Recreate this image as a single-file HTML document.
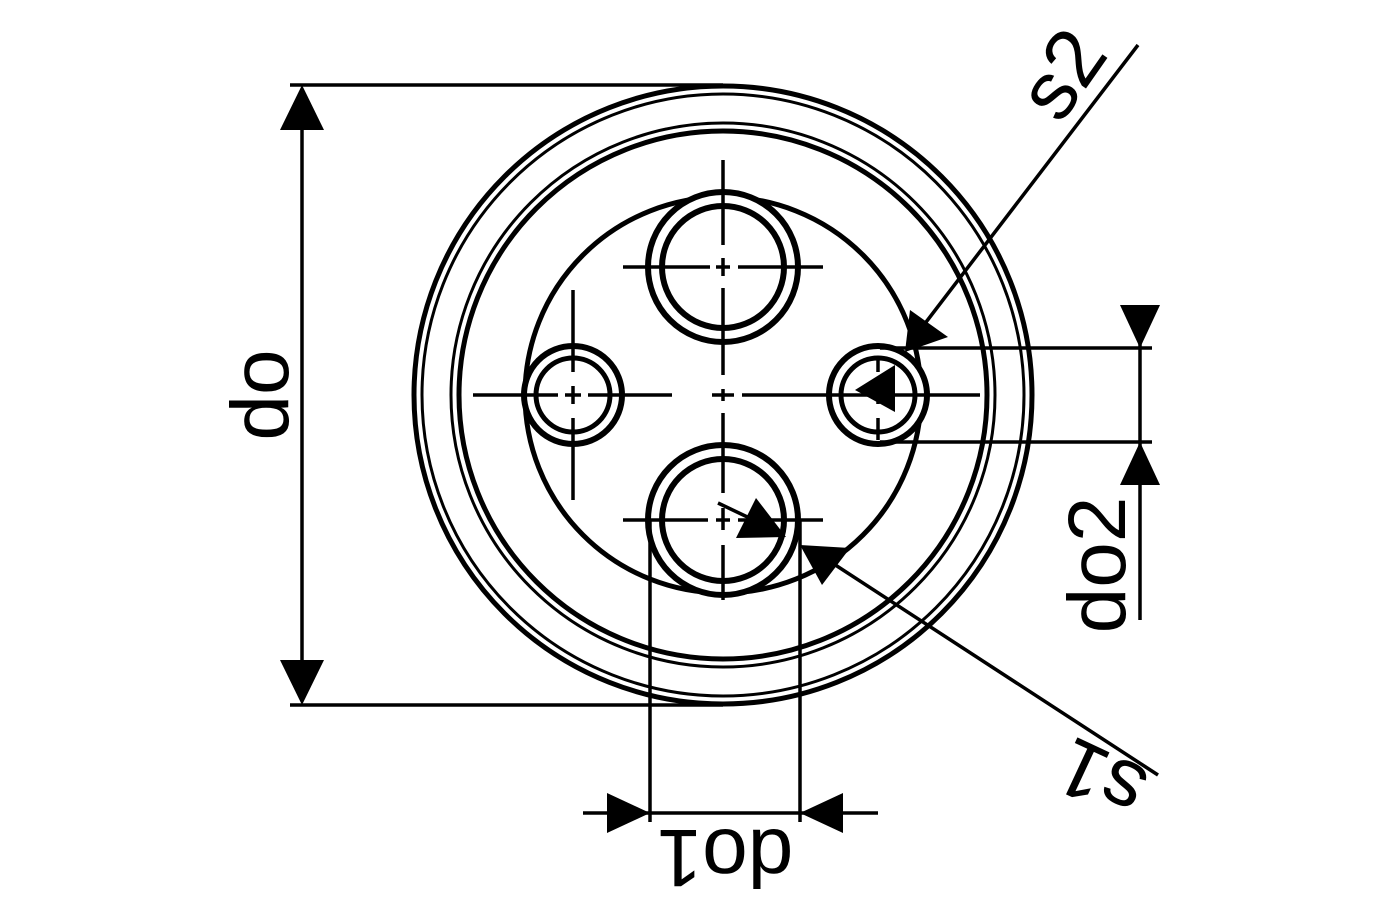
<!DOCTYPE html>
<html><head><style>html,body{margin:0;padding:0;background:#fff}svg{display:block}</style></head>
<body>
<svg width="1400" height="900" viewBox="0 0 1400 900" xmlns="http://www.w3.org/2000/svg">
<g fill="none" stroke="#000">
<circle cx="723" cy="395" r="309" stroke-width="5"/>
<circle cx="723" cy="395" r="301" stroke-width="3"/>
<circle cx="723" cy="395" r="272" stroke-width="3"/>
<circle cx="723" cy="395" r="264" stroke-width="5"/>
<circle cx="723" cy="395" r="198" stroke-width="5"/>
<circle cx="723" cy="267" r="75" stroke-width="6" fill="#fff"/>
<circle cx="723" cy="267" r="61" stroke-width="6"/>
<circle cx="723" cy="520" r="75" stroke-width="6" fill="#fff"/>
<circle cx="723" cy="520" r="61" stroke-width="6"/>
<circle cx="573" cy="395" r="49" stroke-width="6" fill="#fff"/>
<circle cx="573" cy="395" r="37" stroke-width="5"/>
<circle cx="878" cy="395" r="49" stroke-width="6" fill="#fff"/>
<circle cx="878" cy="395" r="37" stroke-width="5"/>
</g>
<g stroke="#000" stroke-width="3.5" fill="none">
<path d="M623 267H710M716 267H730M738 267H823"/>
<path d="M723 160V245M723 258V276M723 288V375M723 389V401M723 413V493M723 508V530M723 545V600"/>
<path d="M623 520H708M716 520H730M738 520H823"/>
<path d="M473 395H558M565 395H581M588 395H672M712 395H734M742 395H980"/>
<path d="M573 290V372M573 386V404M573 418V500"/>
<path d="M878 360V372M878 386V404M878 418V440"/>
<path d="M290 85H723M290 705H723M302 120V670"/>
<path d="M880 348H1152M880 442H1152M1140 305V620"/>
<path d="M650 520V822M800 520V822M583 813H878"/>
<path d="M1138 45L920 330"/>
<path d="M1158 775L820 555"/>
<path d="M718 503L760 523"/>
</g>
<g fill="#000">
<polygon points="302,85 280,130 324,130"/>
<polygon points="302,705 280,660 324,660"/>
<polygon points="1140,348 1120,305 1160,305"/>
<polygon points="1140,442 1120,485 1160,485"/>
<polygon points="650,813 607,793 607,833"/>
<polygon points="800,813 843,793 843,833"/>
<polygon points="905,352 910,310 948,337"/>
<polygon points="855,390 895,365 895,412"/>
<polygon points="800,545 850,548 822,585"/>
<polygon points="786,537 756,498 736,538"/>
</g>
<g font-family="Liberation Sans, sans-serif" font-size="82" fill="#000">
<text transform="translate(288,395) rotate(-90)" text-anchor="middle">do</text>
<text transform="translate(1125,565) rotate(-90)" text-anchor="middle">do2</text>
<text transform="translate(725,830) rotate(180)" text-anchor="middle">do1</text>
<text transform="translate(1085,90) rotate(-55)" text-anchor="middle">s2</text>
<text transform="translate(1113,754) rotate(205)" text-anchor="middle">s1</text>
</g>
</svg>
</body></html>
